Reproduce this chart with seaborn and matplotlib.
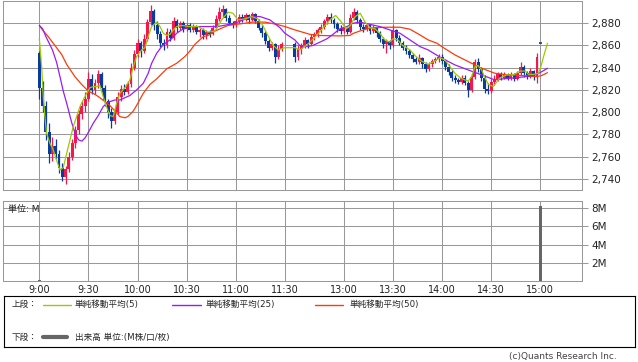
import numpy as np
import matplotlib
matplotlib.use("Agg")
import matplotlib.pyplot as plt
from matplotlib.ticker import FuncFormatter
import seaborn as sns

# ---- data ----
# x axis = minutes from 9:00, lunch squeezed so 12:30 sits at 156
am_x = np.arange(0, 150, 2)        # 2-min bars 9:00 - 11:28
pm_x = np.arange(156, 306, 2)      # 2-min bars 12:30 - 14:58

opens = [2853, 2822, 2806, 2782, 2762, 2770, 2762, 2750, 2742, 2749,
         2760, 2772, 2784, 2798, 2806, 2812, 2830, 2820, 2826, 2834,
         2822, 2810, 2800, 2792, 2800, 2814, 2821, 2818, 2825, 2840,
         2852, 2862, 2855, 2866, 2881, 2891, 2878, 2870, 2862, 2860,
         2872, 2867, 2882, 2876, 2880, 2875, 2878, 2874, 2877, 2872,
         2874, 2869, 2872, 2870, 2876, 2884, 2890, 2893, 2885, 2880,
         2878, 2882, 2886, 2884, 2887, 2883, 2888, 2882, 2876, 2871,
         2864, 2858, 2861, 2850, 2857,
         2861, 2850, 2857, 2860, 2865, 2861, 2868, 2870, 2874, 2877,
         2882, 2886, 2883, 2879, 2875, 2873, 2876, 2872, 2885, 2890,
         2883, 2877, 2875, 2878, 2873, 2876, 2871, 2866, 2861, 2864,
         2860, 2874, 2867, 2862, 2858, 2855, 2851, 2848, 2845, 2849,
         2843, 2839, 2843, 2846, 2848, 2850, 2846, 2841, 2836, 2831,
         2829, 2827, 2831, 2826, 2820, 2832, 2845, 2839, 2831, 2821,
         2819, 2827, 2830, 2834, 2831, 2834, 2831, 2834, 2830, 2835,
         2841, 2835, 2832, 2837, 2832]
highs = [2855, 2828, 2810, 2790, 2778, 2776, 2766, 2754, 2752, 2764,
         2776, 2788, 2802, 2810, 2818, 2836, 2834, 2830, 2838, 2836,
         2824, 2812, 2804, 2804, 2818, 2824, 2825, 2828, 2844, 2856,
         2866, 2864, 2870, 2884, 2896, 2893, 2882, 2873, 2866, 2876,
         2875, 2886, 2884, 2882, 2882, 2880, 2880, 2879, 2878, 2876,
         2876, 2874, 2874, 2878, 2887, 2895, 2896, 2894, 2887, 2882,
         2884, 2888, 2888, 2889, 2888, 2890, 2889, 2884, 2878, 2873,
         2866, 2863, 2862, 2860, 2863,
         2863, 2860, 2862, 2868, 2866, 2870, 2872, 2876, 2879, 2884,
         2888, 2889, 2885, 2881, 2878, 2878, 2877, 2888, 2894, 2892,
         2885, 2879, 2880, 2879, 2878, 2877, 2873, 2868, 2866, 2865,
         2878, 2875, 2869, 2864, 2860, 2857, 2853, 2850, 2852, 2850,
         2845, 2845, 2848, 2850, 2852, 2852, 2848, 2843, 2838, 2833,
         2831, 2833, 2833, 2828, 2835, 2848, 2849, 2841, 2833, 2826,
         2830, 2833, 2836, 2836, 2836, 2835, 2836, 2835, 2837, 2845,
         2842, 2837, 2840, 2838, 2853]
lows = [2812, 2800, 2775, 2754, 2756, 2758, 2745, 2738, 2735, 2746,
        2757, 2768, 2780, 2794, 2800, 2810, 2816, 2816, 2822, 2818,
        2806, 2795, 2786, 2789, 2798, 2810, 2815, 2816, 2823, 2838,
        2850, 2850, 2853, 2864, 2878, 2874, 2866, 2859, 2856, 2858,
        2864, 2865, 2872, 2874, 2872, 2873, 2872, 2872, 2870, 2868,
        2866, 2866, 2868, 2869, 2875, 2882, 2886, 2882, 2878, 2876,
        2877, 2880, 2881, 2882, 2880, 2882, 2880, 2874, 2868, 2861,
        2855, 2856, 2844, 2848, 2855,
        2845, 2847, 2852, 2858, 2858, 2860, 2865, 2868, 2871, 2875,
        2879, 2880, 2876, 2872, 2870, 2871, 2870, 2871, 2883, 2880,
        2874, 2872, 2873, 2870, 2871, 2868, 2863, 2858, 2853, 2857,
        2859, 2864, 2860, 2856, 2852, 2849, 2845, 2843, 2843, 2840,
        2836, 2837, 2841, 2844, 2845, 2843, 2838, 2833, 2828, 2826,
        2825, 2825, 2824, 2814, 2818, 2830, 2836, 2828, 2817, 2816,
        2817, 2824, 2828, 2829, 2830, 2829, 2829, 2828, 2829, 2833,
        2832, 2830, 2831, 2829, 2826]
closes = [2822, 2806, 2782, 2762, 2770, 2762, 2750, 2742, 2749, 2760,
          2772, 2784, 2798, 2806, 2812, 2830, 2820, 2826, 2834, 2822,
          2810, 2800, 2792, 2800, 2814, 2821, 2818, 2825, 2840, 2852,
          2862, 2855, 2866, 2881, 2891, 2878, 2870, 2862, 2860, 2872,
          2867, 2882, 2876, 2880, 2875, 2878, 2874, 2877, 2872, 2874,
          2869, 2872, 2870, 2876, 2884, 2890, 2893, 2885, 2880, 2878,
          2882, 2886, 2884, 2887, 2883, 2888, 2882, 2876, 2871, 2864,
          2858, 2861, 2850, 2857, 2861,
          2850, 2857, 2860, 2865, 2861, 2868, 2870, 2874, 2877, 2882,
          2886, 2883, 2879, 2875, 2873, 2876, 2872, 2885, 2890, 2883,
          2877, 2875, 2878, 2873, 2876, 2871, 2866, 2861, 2864, 2860,
          2874, 2867, 2862, 2858, 2855, 2851, 2848, 2845, 2849, 2843,
          2839, 2843, 2846, 2848, 2850, 2846, 2841, 2836, 2831, 2829,
          2827, 2831, 2826, 2820, 2832, 2845, 2839, 2831, 2821, 2819,
          2827, 2830, 2834, 2831, 2834, 2831, 2834, 2830, 2835, 2841,
          2835, 2832, 2837, 2832, 2850]

# closing auction print at 15:00
close_time = "15:00"
close_price = 2862

# moving averages (x, price)
ma5_pts = [(0, 2866), (1.4, 2841), (2.4, 2814), (3.4, 2796), (4.4, 2781), (6.5, 2772),
           (8.5, 2766), (10.5, 2757), (12.6, 2748), (14.6, 2750), (16.7, 2763), (18.7, 2775),
           (20.7, 2787), (22.8, 2796), (24.8, 2805), (26.8, 2811), (28.9, 2817), (30.9, 2822),
           (32.9, 2823), (35, 2823), (37, 2824), (39, 2814), (41, 2805), (43.1, 2797),
           (45.1, 2796), (47.2, 2808), (49.2, 2817), (52.3, 2822), (55.3, 2829), (57.4, 2841),
           (59.4, 2850), (62.5, 2856), (64.5, 2858), (66.5, 2868), (68.6, 2877), (71.7, 2881),
           (73.7, 2877), (75.7, 2871), (77.8, 2869), (79.8, 2870), (81.8, 2874), (83.9, 2877),
           (86.9, 2878), (92, 2877), (96.9, 2877), (103, 2872), (107.3, 2873), (111.4, 2883),
           (115.2, 2890), (118.3, 2889), (121.3, 2883), (125.6, 2884), (129.7, 2886), (133.5, 2884),
           (136.5, 2878), (138.9, 2871), (142.9, 2860), (145.9, 2856), (150, 2858), (156.1, 2858),
           (159.1, 2856), (162.3, 2859), (165.3, 2863), (169.4, 2869), (173.4, 2876), (177.5, 2883),
           (181, 2887), (184, 2882), (187.5, 2875), (190, 2878), (193, 2886), (196, 2889),
           (199, 2881), (202, 2876), (205, 2875), (208, 2871), (211, 2865), (214, 2863),
           (216, 2866), (219, 2865), (222, 2860), (226.4, 2856), (229.4, 2851), (233.5, 2846),
           (237.5, 2843), (241.6, 2846), (244.8, 2849), (247.7, 2847), (250.8, 2841), (253.9, 2835),
           (257, 2831), (260, 2829), (262, 2828), (264.1, 2832), (266.1, 2841), (268, 2842),
           (270.2, 2838), (272.2, 2831), (274.3, 2825), (277.3, 2823), (281.4, 2831), (285.5, 2833.5),
           (289.5, 2833.5), (293.7, 2837), (296.8, 2837), (298.8, 2834), (301.8, 2834), (304.9, 2835),
           (306.4, 2841), (308, 2850), (310.4, 2862)]
ma25_pts = [(0, 2878), (2, 2875), (4, 2868), (8, 2856), (10.5, 2845), (12.6, 2832), (14.6, 2819),
            (16.7, 2808), (19.7, 2791), (22, 2780), (24, 2775), (26, 2774), (28, 2777), (30, 2782),
            (32.9, 2790), (36, 2797), (39, 2805), (42.1, 2809), (46.2, 2811), (49.2, 2811),
            (55.3, 2815), (59.4, 2820), (63.5, 2826), (66.5, 2835), (68.6, 2844), (71.7, 2853),
            (74.7, 2859), (77.8, 2863), (80.8, 2866), (83.9, 2871), (86.9, 2874), (92, 2877),
            (100, 2877), (109, 2877), (119.5, 2880), (129.7, 2886), (134.8, 2886), (140.9, 2883),
            (147, 2876), (150, 2871), (156.1, 2865), (159.1, 2860), (163.3, 2859), (167.1, 2860),
            (171.4, 2863), (175.7, 2866), (179.4, 2870), (183.6, 2875), (187.9, 2877), (191.6, 2880),
            (195.8, 2881), (201.9, 2879), (208, 2877), (214.1, 2874), (220.3, 2871), (226.4, 2865),
            (232.5, 2859), (237.5, 2856), (245.8, 2848.6), (253.9, 2842.5), (262, 2838),
            (270.2, 2833.5), (278.3, 2829), (283.2, 2830), (291.6, 2831), (299.8, 2832.5),
            (304, 2834), (307, 2836.5), (310.4, 2839.5)]
ma50_pts = [(0, 2878), (1.4, 2875), (5.4, 2868), (9.5, 2860), (13.6, 2852), (16.7, 2843),
            (21.7, 2832), (25.8, 2825), (29.9, 2819), (34, 2816), (37, 2813), (43.1, 2806),
            (46.2, 2801), (49.2, 2796), (52.3, 2795), (54, 2796), (57.4, 2801), (59.4, 2806),
            (63.5, 2817), (67.6, 2825), (71.7, 2830), (77.8, 2839), (83.9, 2844), (88.9, 2850),
            (92, 2855), (95, 2861), (100.2, 2868), (103, 2869), (107.3, 2873), (115.2, 2878),
            (125.6, 2880), (130, 2881), (137.8, 2881), (145, 2879), (150, 2877), (156.1, 2874),
            (165.3, 2870), (171.4, 2869), (183.6, 2868.6), (189.7, 2869), (192, 2871), (195.8, 2873),
            (201.9, 2875.7), (209.9, 2876.4), (220.3, 2876.4), (226.4, 2874.6), (232.5, 2869.5),
            (237.5, 2865), (242.9, 2862), (245.8, 2859), (253.9, 2851.5), (262, 2845.5),
            (270.2, 2839.5), (278.3, 2835), (283.2, 2834), (293.7, 2833), (303.9, 2832),
            (307, 2833), (310.4, 2835.5)]

# volume (M shares) - only the open and the closing auction are visible
vol_times = ["9:00", "15:00"]
vol_m = [0.15, 8.2]

tick_labels = ["9:00", "9:30", "10:00", "10:30", "11:00", "11:30",
               "13:00", "13:30", "14:00", "14:30", "15:00"]


def to_x(t):
    h, m = map(int, t.split(":"))
    mins = h * 60 + m
    if mins >= 12 * 60 + 30:
        return mins - (12 * 60 + 30) + 156
    return mins - 9 * 60


# ---- style ----
sns.set_style("white")
plt.rcParams['font.family'] = ['DejaVu Sans', 'Noto Sans CJK JP']

UP = "#f5174b"
DOWN = "#0b3a9e"
GRID = "#999999"
C5, C25, C50 = "#99cc00", "#9a1cf5", "#ff3a0a"

W, H = 638, 362
fig = plt.figure(figsize=(W / 100, H / 100), dpi=100)


def box(l, t, r, b):
    return [l / W, 1 - b / H, (r - l) / W, (b - t) / H]


ax = fig.add_axes(box(3, 1, 582, 190))
axv = fig.add_axes(box(3, 201, 582, 281))
axl = fig.add_axes(box(4, 296, 635, 347))

ticks = [to_x(t) for t in tick_labels]
xmin, xmax = -22.2, 331.5

# ---- candles ----
bar_x = np.r_[am_x, pm_x]
o, h, l, c = map(np.array, (opens, highs, lows, closes))
cols = np.where(c >= o, UP, DOWN)
ax.vlines(bar_x, l, h, colors=cols, lw=0.9, zorder=2)
ax.bar(bar_x, np.maximum(np.abs(c - o), 0.8), bottom=np.minimum(o, c),
       width=1.8, color=cols, lw=0, zorder=2)
ax.hlines(close_price, to_x(close_time) - 0.9, to_x(close_time) + 0.9,
          colors=DOWN, lw=1.2, zorder=2)

# ---- moving averages ----
for pts, col in [(ma50_pts, C50), (ma25_pts, C25), (ma5_pts, C5)]:
    xs, ys = zip(*pts)
    sns.lineplot(x=list(xs), y=list(ys), ax=ax, color=col, lw=0.9,
                 sort=False, estimator=None, zorder=3)

ax.set_xlim(xmin, xmax)
ax.set_ylim(2730, 2900)
ax.set_xticks(ticks)
ax.set_xticklabels([])
ax.set_yticks(range(2740, 2881, 20))
ax.yaxis.tick_right()
ax.yaxis.set_major_formatter(FuncFormatter(lambda v, p: f"{int(v):,}"))
ax.tick_params(axis='x', length=0)
ax.tick_params(axis='y', length=4, width=0.75, color=GRID, pad=3,
               labelsize=7.5, labelcolor="#222222")
ax.grid(True, color=GRID, lw=0.75, zorder=0)
ax.set_axisbelow(True)
ax.set_xlabel("")
ax.set_ylabel("")
for s in ax.spines.values():
    s.set_color(GRID)
    s.set_linewidth(0.75)

# ---- volume ----
axv.bar([to_x(t) for t in vol_times], vol_m, width=2.0, color="#666666", lw=0, zorder=2)
axv.set_xlim(xmin, xmax)
axv.set_ylim(0, 8.8)
axv.set_yticks([2, 4, 6, 8])
axv.set_yticklabels(["2M", "4M", "6M", "8M"])
axv.yaxis.tick_right()
axv.set_xticks(ticks)
axv.set_xticklabels(tick_labels)
axv.tick_params(axis='y', length=4, width=0.75, color=GRID, pad=3,
                labelsize=7.5, labelcolor="#222222")
axv.tick_params(axis='x', length=0, pad=3, labelsize=7, labelcolor="#222222")
axv.grid(True, color=GRID, lw=0.75, zorder=0)
axv.set_axisbelow(True)
for s in axv.spines.values():
    s.set_color(GRID)
    s.set_linewidth(0.75)
fig.text(8 / W, 1 - 209 / H, "単位: M", fontsize=6.5, va='center', color="#222222")

# ---- legend box ----
axl.set_xlim(0, 631)
axl.set_ylim(51, 0)
axl.set_xticks([])
axl.set_yticks([])
for s in axl.spines.values():
    s.set_color("black")
    s.set_linewidth(0.8)
ty, by = 8.6, 41
axl.text(8, ty, "上段：", fontsize=6.2, va='center')
axl.plot([39, 67], [ty, ty], color=C5, lw=1)
axl.text(71, ty, "単純移動平均(5)", fontsize=6.2, va='center')
axl.plot([168, 197], [ty, ty], color=C25, lw=1)
axl.text(202, ty, "単純移動平均(25)", fontsize=6.2, va='center')
axl.plot([311, 339], [ty, ty], color=C50, lw=1)
axl.text(346, ty, "単純移動平均(50)", fontsize=6.2, va='center')
axl.text(8, by, "下段：", fontsize=6.2, va='center')
axl.plot([39, 63], [by, by], color="#666666", lw=3)
axl.text(71, by, "出来高 単位:(M株/口/枚)", fontsize=6.2, va='center')

fig.text(617 / W, 1 - 356 / H, "(c)Quants Research Inc.", fontsize=6.5,
         ha='right', va='center', color="#444444")

fig.savefig("out.png", dpi=100)
